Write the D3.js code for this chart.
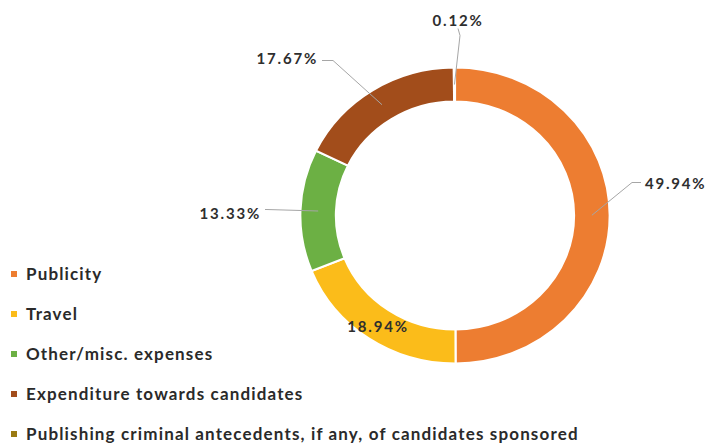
<!DOCTYPE html>
<html>
  <head>
    <meta charset="utf-8">
    <title>Expenditure breakdown</title>
    <script src="https://d3js.org/d3.v7.min.js"></script>
    <style>
      body { margin: 0; background: #fff; }
      svg { display: block; font-family: Lato, "Open Sans", sans-serif; }
      .label { font-size: 15px; font-weight: bold; fill: #2e2e2e; letter-spacing: 1.8px; }
      .legend text { font-size: 17px; font-weight: bold; fill: #2a2a2a; letter-spacing: 1.15px; }
      .leader { stroke: #a6a6a6; stroke-width: 1; fill: none; }
    </style>
  </head>
  <body>
    <svg id="chart" width="710" height="444"></svg>
    <script>
      // data
      var categories = ["Publicity", "Travel", "Other/misc. expenses",
        "Expenditure towards candidates",
        "Publishing criminal antecedents, if any, of candidates sponsored"];
      var shares = [49.94, 18.94, 13.33, 17.67, 0.12];
      var colours = ["#ed7d31", "#fbbc1a", "#6cb044", "#a24d1b", "#9a7a12"];

      // where the labels sit, relative to the donut centre (layout only)
      var labelPos = [
        { x: 190, y: -32, anchor: "start", elbow: [177, -33] },
        { x: -77, y: 111, anchor: "middle", elbow: null },
        { x: -194, y: -2, anchor: "end", elbow: [-188, -6] },
        { x: -137, y: -157, anchor: "end", elbow: [-122, -155] },
        { x: 3, y: -195, anchor: "middle", elbow: [5, -180] }
      ];

      var svg = d3.select("#chart");
      var cx = 455, cy = 215.5, sx = 1.045;
      var outer = 148, inner = 114;

      var data = categories.map(function(c, i) {
        return { name: c, value: shares[i], colour: colours[i], pos: labelPos[i] };
      });

      var pie = d3.pie()
        .sort(null)
        .value(function(d) { return d.value; });
      var arc = d3.arc()
        .innerRadius(inner)
        .outerRadius(outer);
      var arcs = pie(data);

      var donut = svg.append("g")
        .attr("transform", "translate(" + cx + "," + cy + ") scale(" + sx + ",1)");
      donut.selectAll("path")
          .data(arcs)
        .enter().append("path")
          .attr("d", arc)
          .attr("fill", function(d) { return d.data.colour; })
          .attr("stroke", "#fff")
          .attr("stroke-width", 2);

      // labels and leader lines
      var labels = svg.append("g")
        .attr("transform", "translate(" + cx + "," + cy + ")");
      var midR = (inner + outer) / 2;
      arcs.forEach(function(d) {
        var p = d.data.pos;
        var a = (d.startAngle + d.endAngle) / 2;
        var start = [Math.sin(a) * midR * sx, -Math.cos(a) * midR];
        if (p.elbow) {
          var end = p.anchor == "middle" ? [p.x, p.y + 8] : [p.x + (p.anchor == "start" ? -4 : 4), p.elbow[1]];
          labels.append("path")
            .attr("class", "leader")
            .attr("d", d3.line()([start, p.elbow, end]));
        }
        labels.append("text")
          .attr("class", "label")
          .attr("x", p.x)
          .attr("y", p.y)
          .attr("dy", "0.35em")
          .attr("text-anchor", p.anchor)
          .text(d3.format(".2f")(d.data.value) + "%");
      });

      // legend
      var y = d3.scalePoint()
        .domain(categories)
        .range([274, 434]);
      var legend = svg.append("g").attr("class", "legend");
      var rows = legend.selectAll("g")
          .data(data)
        .enter().append("g")
          .attr("transform", function(d) { return "translate(0," + y(d.name) + ")"; });
      rows.append("rect")
        .attr("x", 11)
        .attr("y", -3)
        .attr("width", 6)
        .attr("height", 6)
        .attr("fill", function(d) { return d.colour; });
      rows.append("text")
        .attr("x", 26)
        .attr("dy", "0.35em")
        .text(function(d) { return d.name; });
    </script>
  </body>
</html>
